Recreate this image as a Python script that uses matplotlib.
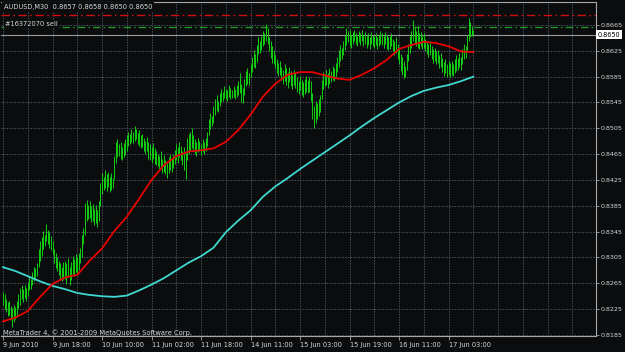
import matplotlib
matplotlib.use("Agg")
import matplotlib.pyplot as plt
import numpy as np

# ---------------- data ----------------
symbol_text = "AUDUSD,M30  0.8657 0.8658 0.8650 0.8650"
order_text = "#16372070 sell"
copyright_text = "MetaTrader 4, \u00a9 2001-2009 MetaQuotes Software Corp."

# bar highs / lows in pips (0.0001)
highs_pips = [
    8252, 8248, 8240, 8236, 8238, 8230, 8226, 8232, 8228, 8238,
    8248, 8258, 8262, 8256, 8262, 8258, 8266, 8276, 8272, 8282,
    8290, 8288, 8296, 8318, 8330, 8336, 8346, 8340, 8357, 8348,
    8345, 8338, 8330, 8318, 8312, 8306, 8300, 8296, 8290, 8298,
    8300, 8296, 8304, 8290, 8298, 8308, 8302, 8310, 8306, 8312,
    8320, 8340, 8350, 8390, 8394, 8386, 8392, 8384, 8388, 8380,
    8386, 8378, 8392, 8420, 8436, 8430, 8440, 8434, 8438, 8430,
    8436, 8428, 8462, 8484, 8488, 8480, 8484, 8476, 8482, 8488,
    8494, 8500, 8496, 8504, 8500, 8509, 8504, 8498, 8502, 8494,
    8496, 8490, 8486, 8492, 8484, 8480, 8476, 8482, 8474, 8470,
    8466, 8462, 8470, 8458, 8464, 8456, 8452, 8460, 8466, 8458,
    8466, 8472, 8480, 8476, 8484, 8478, 8470, 8476, 8470, 8490,
    8496, 8500, 8506, 8494, 8488, 8484, 8490, 8486, 8480, 8488,
    8484, 8490, 8500, 8520, 8528, 8524, 8540, 8550, 8556, 8548,
    8560, 8566, 8562, 8570, 8566, 8564, 8572, 8568, 8564, 8570,
    8566, 8572, 8578, 8590, 8574, 8568, 8582, 8594, 8598, 8590,
    8604, 8616, 8626, 8620, 8634, 8646, 8640, 8648, 8656, 8652,
    8667, 8660, 8646, 8640, 8632, 8626, 8618, 8612, 8606, 8610,
    8600, 8596, 8604, 8598, 8592, 8600, 8594, 8588, 8596, 8590,
    8584, 8578, 8586, 8580, 8576, 8582, 8586, 8580, 8584, 8578,
    8560, 8540, 8548, 8544, 8550, 8556, 8580, 8592, 8588, 8596,
    8590, 8598, 8594, 8602, 8598, 8606, 8616, 8626, 8634, 8630,
    8640, 8650, 8660, 8656, 8658, 8650, 8654, 8658, 8652, 8648,
    8656, 8652, 8658, 8650, 8654, 8648, 8652, 8646, 8654, 8650,
    8648, 8652, 8646, 8650, 8656, 8652, 8648, 8654, 8650, 8646,
    8648, 8652, 8644, 8640, 8646, 8636, 8628, 8620, 8616, 8610,
    8602, 8620, 8636, 8648, 8656, 8673, 8662, 8656, 8664, 8652,
    8654, 8648, 8652, 8644, 8640, 8636, 8640, 8632, 8628, 8630,
    8624, 8626, 8618, 8622, 8614, 8608, 8612, 8604, 8610, 8606,
    8610, 8604, 8612, 8618, 8614, 8622, 8616, 8628, 8636, 8632,
    8650, 8676, 8670, 8664, 8658,
]
lows_pips = [
    8232, 8225, 8220, 8214, 8216, 8208, 8198, 8205, 8210, 8214,
    8226, 8232, 8240, 8236, 8242, 8238, 8246, 8254, 8256, 8262,
    8268, 8272, 8276, 8290, 8300, 8308, 8318, 8322, 8330, 8326,
    8320, 8316, 8310, 8296, 8288, 8284, 8278, 8270, 8268, 8272,
    8272, 8264, 8276, 8262, 8270, 8280, 8276, 8282, 8278, 8286,
    8296, 8306, 8326, 8340, 8362, 8364, 8366, 8360, 8362, 8356,
    8358, 8352, 8362, 8384, 8404, 8410, 8412, 8408, 8414, 8406,
    8410, 8412, 8426, 8452, 8460, 8462, 8458, 8456, 8460, 8464,
    8470, 8478, 8480, 8484, 8482, 8486, 8488, 8480, 8478, 8474,
    8476, 8470, 8466, 8470, 8458, 8456, 8452, 8458, 8450, 8448,
    8446, 8440, 8444, 8436, 8438, 8434, 8428, 8436, 8440, 8438,
    8444, 8450, 8456, 8452, 8460, 8456, 8448, 8440, 8426, 8456,
    8466, 8470, 8474, 8470, 8466, 8462, 8468, 8470, 8464, 8468,
    8466, 8470, 8478, 8494, 8504, 8508, 8514, 8526, 8532, 8530,
    8540, 8546, 8548, 8552, 8550, 8548, 8554, 8550, 8552, 8554,
    8550, 8554, 8556, 8560, 8546, 8544, 8556, 8570, 8574, 8572,
    8584, 8592, 8600, 8598, 8608, 8620, 8622, 8626, 8632, 8636,
    8640, 8636, 8624, 8614, 8606, 8604, 8598, 8590, 8586, 8588,
    8580, 8574, 8578, 8572, 8568, 8576, 8570, 8566, 8572, 8568,
    8562, 8558, 8564, 8556, 8554, 8558, 8562, 8560, 8562, 8548,
    8520, 8506, 8514, 8520, 8524, 8530, 8550, 8566, 8570, 8572,
    8568, 8574, 8576, 8580, 8578, 8584, 8592, 8600, 8610, 8612,
    8618, 8626, 8634, 8638, 8632, 8630, 8636, 8640, 8636, 8632,
    8638, 8634, 8640, 8632, 8636, 8630, 8634, 8628, 8636, 8632,
    8630, 8634, 8628, 8632, 8636, 8634, 8630, 8636, 8628, 8626,
    8628, 8632, 8624, 8618, 8622, 8612, 8604, 8594, 8588, 8583,
    8584, 8596, 8610, 8622, 8630, 8640, 8636, 8632, 8630, 8628,
    8632, 8628, 8630, 8624, 8620, 8616, 8618, 8612, 8606, 8610,
    8604, 8606, 8598, 8600, 8592, 8586, 8590, 8584, 8588, 8584,
    8588, 8586, 8590, 8594, 8596, 8600, 8596, 8604, 8612, 8614,
    8626, 8640, 8646, 8648, 8650,
]

# moving averages, sampled every 8 bars (pips)
ma_bars = list(range(0, 305, 8))
red_ma_pips = [
    8206, 8212, 8222, 8244, 8264, 8274, 8278, 8300, 8319, 8346,
    8368, 8396, 8425, 8448, 8462, 8469, 8471, 8474, 8484, 8502,
    8526, 8554, 8574, 8588, 8592, 8592, 8587, 8582, 8580, 8588,
    8598, 8611, 8628, 8634, 8639, 8637, 8632, 8624, 8623,
]
cyan_ma_pips = [
    8290, 8284, 8276, 8268, 8261, 8256, 8250, 8247, 8245, 8244,
    8246, 8254, 8263, 8273, 8285, 8297, 8307, 8320, 8344, 8362,
    8378, 8399, 8415, 8428, 8442, 8455, 8468, 8481, 8494, 8508,
    8521, 8533, 8545, 8555, 8563, 8568, 8572, 8578, 8585,
]

x_tick_bars = [0, 32, 64, 96, 128, 160, 192, 224, 256, 288]
x_tick_labels = ["9 Jun 2010", "9 Jun 18:00", "10 Jun 10:00", "11 Jun 02:00",
                 "11 Jun 18:00", "14 Jun 11:00", "15 Jun 03:00", "15 Jun 19:00",
                 "16 Jun 11:00", "17 Jun 03:00"]
grid_bars = list(range(0, 384, 16))
price_ticks = [0.8665, 0.8625, 0.8585, 0.8545, 0.8505, 0.8465, 0.8425,
               0.8385, 0.8345, 0.8305, 0.8265, 0.8225, 0.8185]
bid_price = 0.8650
order_price = 0.8662
stop_price = 0.8680

# ---------------- style ----------------
BG = "#0a0c0e"
GRID = "#56616c"
FG = "#d8d8d8"
BAR = "#12d012"

highs = np.array(highs_pips) / 10000.0
lows = np.array(lows_pips) / 10000.0
red_ma = np.array(red_ma_pips) / 10000.0
cyan_ma = np.array(cyan_ma_pips) / 10000.0
bars = np.arange(len(highs))

W, H = 625, 352
fig = plt.figure(figsize=(W / 100, H / 100), dpi=100, facecolor=BG)
ax = fig.add_axes([1 / W, 16 / H, 595 / W, 334 / H])
ax.set_facecolor(BG)

ax.set_xlim(-1.3, 383.3)
ax.set_ylim(0.81834, 0.87006)

# grid
ax.hlines(price_ticks, -1.3, 383.3, colors=GRID, lw=0.6,
          linestyles=(0, (1.6, 1.6)), zorder=0)
ax.vlines(grid_bars, 0.81834, 0.87006, colors=GRID, lw=0.6,
          linestyles=(0, (1.6, 1.6)), zorder=0)

# order lines
ax.axhline(stop_price, color="#d01010", lw=1.0, ls=(0, (6, 2.5, 1.2, 2.5)), zorder=1)
ax.axhline(order_price, color="#22a022", lw=0.9, ls=(0, (6, 2.5, 1.2, 2.5)), zorder=1)
ax.axhline(bid_price, color="#9a9a9a", lw=0.8, zorder=1)

# price bars
ax.vlines(bars, lows, highs, colors=BAR, lw=0.7, zorder=2)

# moving averages
ax.plot(ma_bars, cyan_ma, color="#40d8d0", lw=1.3, zorder=3)
ax.plot(ma_bars, red_ma, color="#e80000", lw=1.3, zorder=3)

# spines
for s in ax.spines.values():
    s.set_color("#a8a8a8")
    s.set_linewidth(0.8)
ax.spines["left"].set_visible(False)

# y axis on right
ax.yaxis.tick_right()
ax.set_yticks(price_ticks)
ax.set_yticklabels([f"{p:.4f}" for p in price_ticks])
ax.tick_params(axis="y", direction="out", length=2, width=0.6, color="#a8a8a8",
               labelcolor=FG, labelsize=4.6, pad=1)

# x axis
ax.set_xticks(x_tick_bars)
ax.set_xticklabels(x_tick_labels)
ax.tick_params(axis="x", direction="out", length=3, width=0.6, color="#a8a8a8",
               labelcolor=FG, labelsize=4.8, pad=1.5)
for lbl in ax.get_xticklabels():
    lbl.set_horizontalalignment("left")

# bid label box
ax.text(1.003, bid_price, f"{bid_price:.4f}", transform=ax.get_yaxis_transform(),
        ha="left", va="center", fontsize=4.7, color="black",
        bbox=dict(boxstyle="square,pad=0.22", fc="white", ec="none"), zorder=5,
        clip_on=False)

# texts
fig.text(4 / W, 1 - 7 / H, symbol_text, color=FG, fontsize=4.8, va="center", ha="left",
         bbox=dict(boxstyle="square,pad=0.25", fc=BG, ec="none"))
fig.text(5 / W, 1 - 24 / H, order_text, color=FG, fontsize=4.8, va="center", ha="left",
         bbox=dict(boxstyle="square,pad=0.15", fc=BG, ec="none"))
fig.text(3 / W, 1 - 333 / H, copyright_text, color=FG, fontsize=4.9, va="center",
         ha="left")

fig.savefig("out.png", dpi=100, facecolor=BG)
